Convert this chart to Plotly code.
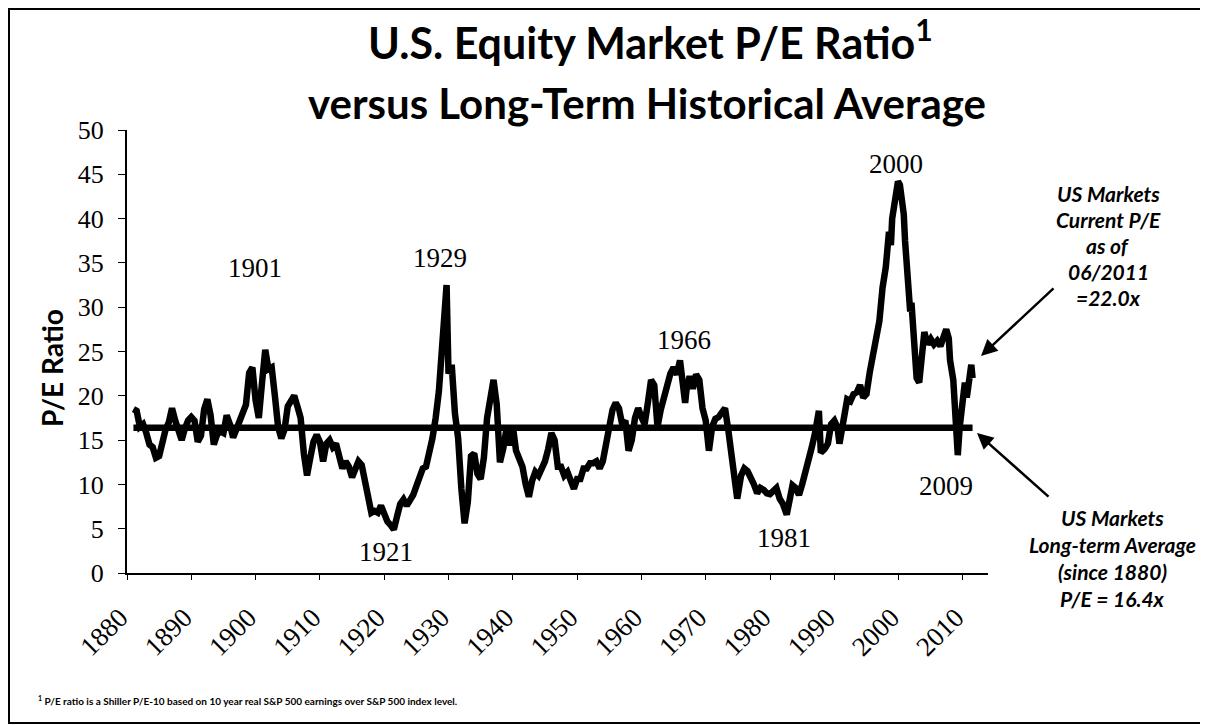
import plotly.graph_objects as go

# ---- data ----
years = [
 1881.0,1881.5,1882.0,1882.5,1883.0,1883.5,1884.0,1884.5,1885.0,1885.5,
 1886.0,1886.5,1887.0,1887.5,1888.0,1888.5,1889.0,1889.5,1890.0,1890.5,
 1891.0,1891.5,1892.0,1892.5,1893.0,1893.5,1894.0,1894.5,1895.0,1895.5,
 1896.0,1896.5,1897.0,1897.5,1898.0,1898.5,1899.0,1899.5,1900.0,1900.5,
 1901.0,1901.5,1902.0,1902.5,1903.0,1903.5,1904.0,1904.5,1905.0,1905.5,
 1906.0,1906.5,1907.0,1907.5,1908.0,1908.5,1909.0,1909.5,1910.0,1910.5,
 1911.0,1911.5,1912.0,1912.5,1913.0,1913.5,1914.0,1914.5,1915.0,1915.5,
 1916.0,1916.5,1917.0,1917.5,1918.0,1918.5,1919.0,1919.5,1920.0,1920.5,
 1921.0,1921.5,1922.0,1922.5,1923.0,1923.5,1924.0,1924.5,1925.0,1925.5,
 1926.0,1926.5,1927.0,1927.5,1928.0,1928.5,1929.0,1929.5,1929.7,1930.0,
 1930.5,1931.0,1931.5,1932.0,1932.5,1933.0,1933.5,1934.0,1934.5,1935.0,
 1935.5,1936.0,1936.5,1937.0,1937.5,1938.0,1938.5,1939.0,1939.5,1940.0,
 1940.5,1941.0,1941.5,1942.0,1942.5,1943.0,1943.5,1944.0,1944.5,1945.0,
 1945.5,1946.0,1946.5,1947.0,1947.5,1948.0,1948.5,1949.0,1949.5,1950.0,
 1950.5,1951.0,1951.5,1952.0,1952.5,1953.0,1953.5,1954.0,1954.5,1955.0,
 1955.5,1956.0,1956.5,1957.0,1957.5,1958.0,1958.5,1959.0,1959.5,1960.0,
 1960.5,1961.0,1961.5,1962.0,1962.5,1963.0,1963.5,1964.0,1964.5,1965.0,
 1965.5,1966.0,1966.5,1966.8,1967.0,1967.5,1968.0,1968.5,1969.0,1969.5,
 1970.0,1970.5,1971.0,1971.5,1972.0,1972.5,1973.0,1973.5,1974.0,1974.5,
 1974.9,1975.0,1975.5,1976.0,1976.5,1977.0,1977.5,1978.0,1978.5,1979.0,
 1979.5,1980.0,1980.5,1981.0,1981.5,1982.0,1982.6,1983.0,1983.5,1984.0,
 1984.5,1985.0,1985.5,1986.0,1986.5,1987.0,1987.6,1987.9,1988.5,1989.0,
 1989.5,1990.0,1990.5,1990.8,1991.0,1991.5,1992.0,1992.5,1993.0,1993.5,
 1994.0,1994.5,1995.0,1995.5,1996.0,1996.5,1997.0,1997.5,1998.0,1998.5,
 1998.8,1999.0,1999.5,1999.9,2000.2,2000.5,2000.8,2001.0,2001.5,2001.8,
 2002.0,2002.5,2002.8,2003.2,2003.5,2004.0,2004.5,2005.0,2005.5,2006.0,
 2006.5,2007.0,2007.4,2007.8,2008.0,2008.5,2008.9,2009.2,2009.5,2009.9,
 2010.3,2010.6,2011.0,2011.3,2011.5,
]
pe_ratio = [
 18.5,18.3,16.5,16.8,15.8,14.5,14.2,13.0,13.2,14.8,
 16.2,17.0,18.6,17.2,15.8,15.0,16.3,17.2,17.6,17.2,
 14.8,15.5,18.5,19.6,17.8,14.5,15.6,16.0,15.8,17.8,
 16.8,15.3,16.2,17.0,18.2,19.0,22.6,23.2,19.5,17.5,
 21.5,25.2,23.0,23.2,20.0,16.5,15.2,16.2,18.8,19.6,
 20.0,18.8,17.5,13.5,11.0,13.0,14.8,15.6,14.8,12.6,
 14.6,15.0,14.2,14.6,13.0,11.8,12.6,12.0,10.8,11.8,
 12.6,12.2,10.5,8.5,6.8,7.0,6.8,7.6,6.6,5.8,
 5.4,4.9,6.4,7.8,8.3,7.6,8.2,8.8,9.8,10.8,
 11.8,12.0,13.4,15.2,17.5,20.5,25.5,29.5,32.5,22.5,
 23.5,18.0,15.2,9.5,5.6,8.0,13.2,13.5,11.2,10.6,
 13.0,17.5,19.5,21.8,19.0,12.5,14.0,16.2,14.4,16.6,
 13.8,12.8,12.0,10.0,8.6,10.4,11.4,11.0,11.8,12.6,
 14.0,15.8,15.0,12.0,12.0,11.0,11.4,10.2,9.5,10.6,
 10.6,11.8,11.8,12.4,12.4,12.6,11.8,12.6,14.4,16.5,
 18.4,19.2,18.6,16.8,17.2,13.8,15.0,17.5,18.6,17.6,
 16.8,19.2,21.8,21.2,16.5,18.4,19.8,21.4,22.5,23.2,
 22.4,24.0,21.0,19.2,20.6,22.2,20.8,22.4,21.8,18.6,
 17.2,13.8,16.5,17.4,17.6,18.2,18.6,16.2,13.8,10.4,
 8.4,8.8,11.0,11.8,11.5,10.8,10.0,9.0,9.6,9.4,
 9.0,8.9,9.2,9.6,8.4,7.8,6.6,8.6,9.9,9.6,
 8.8,10.0,11.2,12.4,14.2,15.8,18.3,13.6,14.0,14.6,
 16.8,17.2,16.4,14.6,15.6,17.8,19.6,19.4,20.2,20.4,
 21.2,19.8,20.2,22.6,24.6,25.6,28.4,32.2,34.5,38.5,
 37.0,40.0,42.5,44.2,43.8,42.5,40.5,37.5,32.0,29.5,
 30.5,25.0,22.0,21.5,24.5,27.2,25.8,26.4,25.8,26.2,
 25.6,27.0,27.5,26.5,24.0,21.8,15.5,13.3,16.5,20.0,
 21.5,19.8,22.6,23.5,22.0,
]
long_term_avg = 16.4
tick_years = [1880, 1890, 1900, 1910, 1920, 1930, 1940, 1950, 1960, 1970, 1980, 1990, 2000, 2010]
tick_labels = [str(y) for y in tick_years]

# event labels: text, year position, value position
event_text = ["1901", "1929", "1921", "1966", "1981", "2000", "2009"]
event_x = [1899.9, 1928.7, 1920.3, 1966.6, 1982.2, 1999.6, 2007.4]
event_y = [34.4, 35.6, 2.4, 26.3, 4.0, 46.2, 9.8]

current_lines = ["US Markets", "Current P/E", "as of", "06/2011", "=22.0x"]
average_lines = ["US Markets", "Long-term Average", "(since 1880)", "P/E = 16.4x"]

# ---- layout geometry (page has an 8px body margin) ----
OFF = 8
W, H = 1208 - OFF, 725 - OFF
PLOT_L, PLOT_R, PLOT_T, PLOT_B = 127, 988, 130, 573   # in page pixels
L = PLOT_L - OFF
T = PLOT_T - OFF
R = W - (PLOT_R - OFF)
B = H - (PLOT_B - OFF)
PW, PH = PLOT_R - PLOT_L, PLOT_B - PLOT_T


def px(xp):
    return (xp - PLOT_L) / PW


def py(yp):
    return (PLOT_B - yp) / PH


serif = "Liberation Serif"
sans = "Lato"

fig = go.Figure()
fig.add_trace(go.Scatter(
    x=[years[0], years[-1]], y=[long_term_avg, long_term_avg], mode="lines",
    line=dict(color="black", width=6.5), hoverinfo="skip", showlegend=False))
fig.add_trace(go.Scatter(
    x=years, y=pe_ratio, mode="lines",
    line=dict(color="black", width=6.5), showlegend=False))

ann = []
# title
ann.append(dict(text="U.S. Equity Market P/E Ratio<sup>1</sup>", x=px(650), y=py(40),
                xref="paper", yref="paper", showarrow=False, xanchor="center", yanchor="middle",
                font=dict(family=sans, size=43, color="black", weight="bold")))
ann.append(dict(text="versus Long-Term Historical Average", x=px(647), y=py(103),
                xref="paper", yref="paper", showarrow=False, xanchor="center", yanchor="middle",
                font=dict(family=sans, size=42, color="black", weight="bold")))
# y axis title
ann.append(dict(text="P/E Ratio", x=px(52), y=py(368), xref="paper", yref="paper",
                showarrow=False, textangle=-90, xanchor="center", yanchor="middle",
                font=dict(family=sans, size=28, color="black", weight="bold")))
# event labels
for t, ex, ey in zip(event_text, event_x, event_y):
    ann.append(dict(text=t, x=ex, y=ey, xref="x", yref="y", showarrow=False,
                    xanchor="center", yanchor="middle",
                    font=dict(family=serif, size=27, color="black")))
# right side notes
for i, t in enumerate(current_lines):
    ann.append(dict(text=t, x=px(1108), y=py(193 + 26.2 * i), xref="paper", yref="paper",
                    showarrow=False, xanchor="center", yanchor="middle",
                    font=dict(family=sans, size=21, color="black", weight="bold", style="italic")))
for i, t in enumerate(average_lines):
    ann.append(dict(text=t, x=px(1112), y=py(517 + 27 * i), xref="paper", yref="paper",
                    showarrow=False, xanchor="center", yanchor="middle",
                    font=dict(family=sans, size=21, color="black", weight="bold", style="italic")))
# arrows
ann.append(dict(text="", x=px(981), y=py(356), xref="paper", yref="paper", showarrow=True,
                ax=74, ay=-69, axref="pixel", ayref="pixel", arrowhead=2, arrowsize=1.3,
                arrowwidth=2.5, arrowcolor="black"))
ann.append(dict(text="", x=px(977), y=py(433), xref="paper", yref="paper", showarrow=True,
                ax=73, ay=65, axref="pixel", ayref="pixel", arrowhead=2, arrowsize=1.3,
                arrowwidth=2.5, arrowcolor="black"))
# footnote
ann.append(dict(text="<sup>1</sup> P/E ratio is a Shiller P/E-10 based on 10 year real S&P 500 earnings over S&P 500 index level.",
                x=px(36), y=py(700), xref="paper", yref="paper", showarrow=False,
                xanchor="left", yanchor="middle",
                font=dict(family=sans, size=10, color="black", weight="bold")))

fig.update_layout(
    width=W, height=H, autosize=False,
    margin=dict(l=L, r=R, t=T, b=B),
    paper_bgcolor="white", plot_bgcolor="white",
    annotations=ann,
    shapes=[dict(type="rect", xref="paper", yref="paper",
                 x0=px(OFF + 1), x1=px(1207), y0=py(723), y1=py(OFF + 1),
                 line=dict(color="black", width=2), fillcolor="rgba(0,0,0,0)", layer="below")],
    xaxis=dict(range=[1880, 2013.9], tickvals=tick_years, ticktext=tick_labels,
               tickangle=-45, showline=True, linecolor="black", linewidth=2,
               ticks="outside", ticklen=5, tickcolor="black", tickwidth=1,
               showgrid=False, zeroline=False, ticklabelstandoff=11, ticklabelshift=-7,
               tickfont=dict(family=serif, size=27, color="black")),
    yaxis=dict(range=[0, 50], tick0=0, dtick=5, showline=True, linecolor="black", linewidth=2,
               ticks="outside", ticklen=7, tickcolor="black", tickwidth=1,
               showgrid=False, zeroline=False, ticklabelstandoff=9,
               tickfont=dict(family=serif, size=26, color="black")),
)

fig.write_html("out.html")
